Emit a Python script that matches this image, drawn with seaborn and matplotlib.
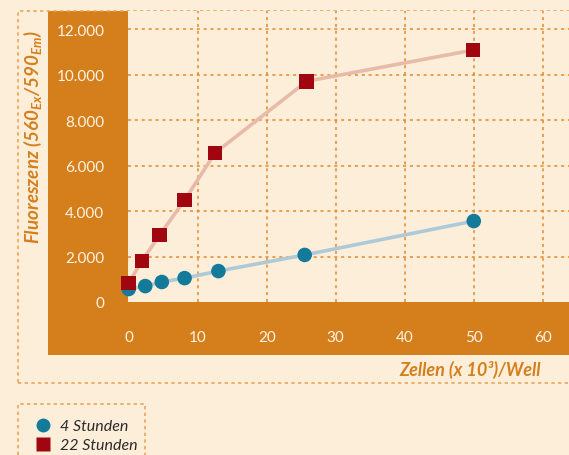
import numpy as np
import pandas as pd
import seaborn as sns
from matplotlib import pyplot as plt
from matplotlib.patches import Rectangle
from matplotlib.lines import Line2D

# data
zellen_4h = [0, 2.4, 4.8, 8.1, 13.0, 25.5, 50.0]
fluor_4h = [570, 700, 880, 1050, 1360, 2070, 3560]
zellen_22h = [0, 1.9, 4.5, 8.1, 12.5, 25.8, 49.9]
fluor_22h = [835, 1800, 2950, 4480, 6550, 9710, 11080]
series_names = ["4 Stunden", "22 Stunden"]
x_ticks = [0, 10, 20, 30, 40, 50, 60]
y_ticks = [0, 2000, 4000, 6000, 8000, 10000, 12000]
y_tick_labels = ["0", "2.000", "4.000", "6.000", "8.000", "10.000", "12.000"]

CREAM = "#FDEEDA"
ORANGE = "#D57F1C"
GRID = "#E18A2C"
BLUE = "#137A9A"
RED = "#A00510"
BLUE_LINE = "#AECAD7"
RED_LINE = "#E8BBA9"

W, H = 569, 456

df = pd.DataFrame({
    "x": zellen_4h + zellen_22h,
    "y": fluor_4h + fluor_22h,
    "serie": [series_names[0]] * len(zellen_4h) + [series_names[1]] * len(zellen_22h),
})

sns.set_style("white")
plt.rcParams["font.family"] = ["Lato", "DejaVu Sans"]


def px_rect(x0, y0, x1, y1):
    # pixel box (top-left origin) -> figure fraction rect
    return (x0 / W, 1 - y1 / H), (x1 - x0) / W, (y1 - y0) / H


fig = plt.figure(figsize=(W / 100, H / 100), dpi=100, facecolor=CREAM)

# orange frame behind the axes
xy, w, h = px_rect(48, 12, 569, 356)
fig.add_artist(Rectangle(xy, w, h, transform=fig.transFigure, facecolor=ORANGE,
                         edgecolor="none", zorder=0))
# dotted outer box
xy, w, h = px_rect(18, 12, 600, 384)
fig.add_artist(Rectangle(xy, w, h, transform=fig.transFigure, facecolor="none",
                         edgecolor="#E9A55A", lw=1.2, ls=(0, (2, 2)), zorder=0))
# dotted legend box
xy, w, h = px_rect(18, 405, 145, 470)
fig.add_artist(Rectangle(xy, w, h, transform=fig.transFigure, facecolor="none",
                         edgecolor="#E9A55A", lw=1.2, ls=(0, (2, 2)), zorder=0))

ax = fig.add_axes([128 / W, 1 - 303 / H, (569 - 128) / W, (303 - 12) / H])
ax.set_facecolor(CREAM)
ax.set_zorder(1)

palette_line = {series_names[0]: BLUE_LINE, series_names[1]: RED_LINE}
palette_pts = {series_names[0]: BLUE, series_names[1]: RED}

sns.lineplot(data=df, x="x", y="y", hue="serie", palette=palette_line, lw=2.6,
             legend=False, ax=ax, zorder=2, sort=False)
sns.scatterplot(data=df, x="x", y="y", hue="serie", style="serie",
                markers={series_names[0]: "o", series_names[1]: "s"},
                palette=palette_pts, s=[110] * len(df), linewidth=0, legend=False,
                ax=ax, zorder=3)
for coll in ax.collections:
    coll.set_clip_on(False)

ax.set_xlim(-0.1, 63.8)
ax.set_ylim(0, 12800)
ax.set_xticks(x_ticks)
ax.set_yticks(y_ticks)
ax.set_yticklabels(y_tick_labels)
ax.set_xlabel("")
ax.set_ylabel("")

for s in ax.spines.values():
    s.set_visible(False)

ax.tick_params(axis="both", direction="out", length=12, width=1.8,
               color="#F6DDB8", labelcolor="#FFF4E6", labelsize=11, pad=5)
ax.tick_params(axis="x", pad=8)

ax.grid(True, color=GRID, lw=1.1, ls=(0, (2, 2.5)), zorder=1)
ax.set_axisbelow(True)
ax.xaxis.get_gridlines()[0].set_visible(False)
ax.yaxis.get_gridlines()[0].set_visible(False)

# axis titles
fig.text(541 / W, 1 - 370 / H, "Zellen (x 10³)/Well", ha="right", va="center",
         color=ORANGE, fontsize=13, fontweight="bold", fontstyle="italic")
fig.text(33 / W, 1 - 137 / H,
         r"Fluoreszenz (560$_{\mathregular{Ex}}$/590$_{\mathregular{Em}}$)",
         ha="center", va="center", rotation=90, color=ORANGE, fontsize=13.5,
         fontweight="bold", fontstyle="italic")

# legend
handles = [
    Line2D([], [], ls="none", marker="o", ms=10, color=BLUE, mec="none"),
    Line2D([], [], ls="none", marker="s", ms=10, color=RED, mec="none"),
]
leg = fig.legend(handles, series_names, loc="upper left",
                 bbox_to_anchor=(22 / W, 1 - 409 / H), frameon=False,
                 prop={"style": "italic", "size": 11.5},
                 handletextpad=0.5, labelspacing=0.3, handlelength=1.2,
                 borderpad=0.2)
for t in leg.get_texts():
    t.set_color("#2B2B2B")

fig.savefig("out.png", dpi=100, facecolor=CREAM)
